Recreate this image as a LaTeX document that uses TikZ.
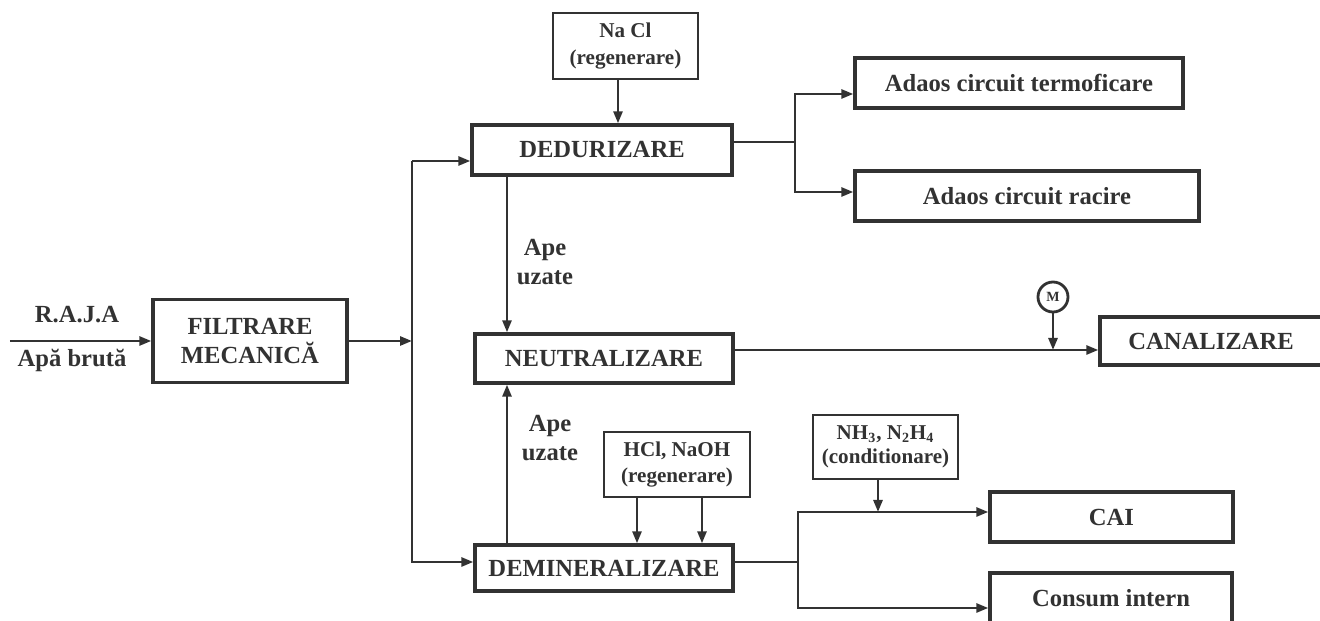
\documentclass[tikz,border=0pt]{standalone}
\usepackage{fontspec}
\setmainfont{Liberation Serif}
\usepackage{xcolor}
\usepackage{tikz}
\usetikzlibrary{positioning,arrows.meta,calc}
\definecolor{ink}{RGB}{50,50,50}
\tikzset{
  blk/.style={draw=ink,line width=1.9pt,text=ink,align=center,inner sep=0pt,font=\fontsize{14}{16}\selectfont\bfseries},
  chem/.style={draw=ink,line width=0.9pt,text=ink,align=center,inner sep=0pt,font=\fontsize{12}{15}\selectfont\bfseries},
  lbl/.style={text=ink,align=center,font=\fontsize{14}{16}\selectfont\bfseries},
  ar/.style={-{Triangle[length=2.4mm,width=1.8mm]},line width=1.5pt,draw=ink},
  ln/.style={line width=1.5pt,draw=ink},
}

\begin{document}
\begin{tikzpicture}
  \useasboundingbox (0,0) rectangle (26.4,12.42);
  % process blocks
  \node[blk,minimum width=3.88cm,minimum height=1.66cm] (filt) at (5.00,5.6) {FILTRARE\\MECANICĂ};
  \node[blk,minimum width=5.2cm,minimum height=1cm] (ded) at (12.04,9.42) {DEDURIZARE};
  \node[blk,minimum width=5.16cm,minimum height=0.98cm] (neut) at (12.08,5.25) {NEUTRALIZARE};
  \node[blk,minimum width=5.16cm,minimum height=0.92cm] (demin) at (12.08,1.06) {DEMINERALIZARE};
  % reagents
  \node[chem,minimum width=2.9cm,minimum height=1.32cm] (nacl) at (12.51,11.5) {Na Cl\\(regenerare)};
  \node[chem,minimum width=2.92cm,minimum height=1.3cm] (hcl) at (13.54,3.13) {HCl, NaOH\\(regenerare)};
  \node[chem,minimum width=2.9cm,minimum height=1.28cm,font=\fontsize{12}{14}\selectfont\bfseries] (nh) at (17.71,3.48) {NH\textsubscript{3}, N\textsubscript{2}H\textsubscript{4}\\(conditionare)};
  % consumers
  \node[blk,minimum width=6.56cm,minimum height=1cm] (term) at (20.38,10.76) {Adaos circuit termoficare};
  \node[blk,minimum width=6.88cm,minimum height=1cm] (rac) at (20.54,8.5) {Adaos circuit racire};
  \node[blk,minimum width=4.44cm,minimum height=0.96cm] (can) at (24.22,5.6) {CANALIZARE};
  \node[blk,minimum width=4.86cm,minimum height=1cm] (cai) at (22.23,2.08) {CAI};
  \node[blk,minimum width=4.84cm,minimum height=1cm] (cons) at (22.22,0.46) {Consum intern};
  \node[circle,draw=ink,line width=1.6pt,minimum size=0.6cm,inner sep=0pt,text=ink,font=\fontsize{8}{9}\selectfont\bfseries] (mtr) at (21.06,6.48) {M};
  % labels
  \node[lbl] (raja) at (1.54,6.12) {R.A.J.A};
  \node[lbl] (bruta) at (1.44,5.22) {Apă brută};
  \node[lbl] (ape1) at (10.9,7.18) {Ape\\uzate};
  \node[lbl] (ape2) at (11.0,3.66) {Ape\\uzate};
  % helper coordinates
  \coordinate (src) at (0.2,5.6);
  \coordinate (bus) at (8.24,0);
  \coordinate (wx) at (10.14,0);
  \coordinate (dsplit) at (15.9,0);
  \coordinate (msplit) at (15.96,0);
  \coordinate (dedin) at ([yshift=-2.2mm]ded.west);
  \coordinate (demi) at ([yshift=1.2mm]demin.west);
  \coordinate (dedout) at ([yshift=1.6mm]ded.east);
  \coordinate (demout) at ([yshift=1.2mm]demin.east);
  \coordinate (neutout) at ([yshift=1.7mm]neut.east);
  \coordinate (termin) at ([yshift=-2.2mm]term.west);
  \coordinate (racin) at ([yshift=0.8mm]rac.west);
  \coordinate (caiin) at ([yshift=1mm]cai.west);
  \coordinate (consin) at ([yshift=-2mm]cons.west);
  \coordinate (naclout) at ([xshift=-1.5mm]nacl.south);
  \coordinate (nhout) at ([xshift=-1.5mm]nh.south);
  % raw water in
  \draw[ar] (src) -- (filt.west);
  \draw[ar] (filt.east) -- (filt.east -| bus);
  \draw[ar] (dedin -| bus) -- (dedin);
  \draw[ar] (dedin -| bus) |- (demi);
  % waste water
  \draw[ar] (ded.south -| wx) -- (neut.north -| wx);
  \draw[ar] (demin.north -| wx) -- (neut.south -| wx);
  \draw[ar] (naclout) -- (naclout |- ded.north);
  \foreach \dx in {-8mm,5mm}{
    \path ([xshift=\dx]hcl.south) coordinate (h);
    \draw[ar] (h) -- (h |- demin.north);
  }
  % outputs
  \draw[ln] (dedout) -- (dedout -| dsplit);
  \draw[ar] (dedout -| dsplit) |- (termin);
  \draw[ar] (dedout -| dsplit) |- (racin);
  \draw[ar] (neutout) -- (neutout -| can.west);
  \draw[ar] (mtr.south) -- (mtr.south |- neutout);
  \draw[ln] (demout) -- (demout -| msplit);
  \draw[ar] (demout -| msplit) |- (caiin);
  \draw[ar] (demout -| msplit) |- (consin);
  \draw[ar] (nhout) -- (nhout |- caiin);
\end{tikzpicture}
\end{document}
